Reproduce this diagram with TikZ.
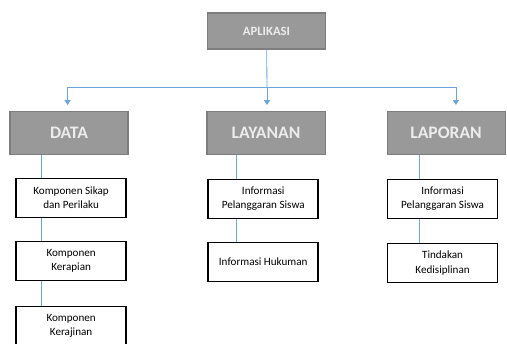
\documentclass[tikz,border=0pt]{standalone}
\usepackage{fontspec}
\setmainfont{Carlito}
\usetikzlibrary{positioning,arrows.meta}

\definecolor{headfill}{RGB}{153,153,153}
\definecolor{headline}{RGB}{125,125,125}
\definecolor{headtext}{RGB}{236,236,236}
\definecolor{linkblue}{RGB}{110,165,215}

\begin{document}
\begin{tikzpicture}[x=0.025cm,y=-0.025cm,
  head node/.style={rectangle,fill=headfill,draw=headline,line width=0.8pt,
    text=headtext,font=\bfseries\fontsize{12.5}{14}\selectfont,
    minimum width=2.95cm,minimum height=1.075cm,inner sep=0pt},
  box node/.style={rectangle,fill=white,draw=black,line width=1.2pt,
    font=\fontsize{7.9}{10}\selectfont,align=center,
    minimum width=2.75cm,minimum height=0.975cm,inner sep=0pt},
  link/.style={draw=linkblue,line width=0.6pt},
  arrow/.style={link,-{Triangle[width=4.5pt,length=3.5pt]},shorten >=0.15cm}]

  \path[use as bounding box,clip] (0,0) rectangle (507,343);

  \node[head node,minimum height=0.9cm,font=\bfseries\fontsize{9}{11}\selectfont] (aplikasi) at (266.5,31) {APLIKASI};

  \node[head node] (data) at (69,133) {DATA};
  \node[head node] (layanan) [right of=data, node distance=4.925cm] {LAYANAN};
  \node[head node] (laporan) [right of=layanan, node distance=4.5cm] {LAPORAN};

  \node[box node] (sikap) [below of=data, node distance=1.625cm, xshift=1.5pt] {Komponen Sikap\\dan Perilaku};
  \node[box node] (kerapian) [below of=sikap, node distance=1.575cm] {Komponen\\Kerapian};
  \node[box node] (kerajinan) [below of=kerapian, node distance=1.625cm] {Komponen\\Kerajinan};

  \node[box node] (infolay) [below of=layanan, node distance=1.65cm, xshift=-2pt] {Informasi\\Pelanggaran Siswa};
  \node[box node] (hukuman) [below of=infolay, node distance=1.575cm] {Informasi Hukuman};

  \node[box node] (infolap) [below of=laporan, node distance=1.65cm, xshift=-2.5pt] {Informasi\\Pelanggaran Siswa};
  \node[box node] (tindakan) [below of=infolap, node distance=1.6cm] {Tindakan\\Kedisiplinan};

  % bus from APLIKASI
  \coordinate (bus) at (267,87);
  \draw[link] (aplikasi) -- (bus);
  \draw[arrow] (bus) -| ([xshift=-1pt]data.north);
  \draw[arrow] (bus) -- (bus |- layanan.north);
  \draw[arrow] (bus) -| ([xshift=7pt]laporan.north);

  % side lines of each column
  \coordinate (dline) at (41,0);
  \coordinate (yline) at (236,0);
  \coordinate (pline) at (419,0);
  \draw[link] (data.south -| dline) -- (sikap.north -| dline);
  \draw[link] (sikap.south -| dline) -- (kerapian.north -| dline);
  \draw[link] (kerapian.south -| dline) -- (kerajinan.north -| dline);
  \draw[link] (layanan.south -| yline) -- (infolay.north -| yline);
  \draw[link] (infolay.south -| yline) -- (hukuman.north -| yline);
  \draw[link] (laporan.south -| pline) -- (infolap.north -| pline);
  \draw[link] (infolap.south -| pline) -- (tindakan.north -| pline);

\end{tikzpicture}
\end{document}
